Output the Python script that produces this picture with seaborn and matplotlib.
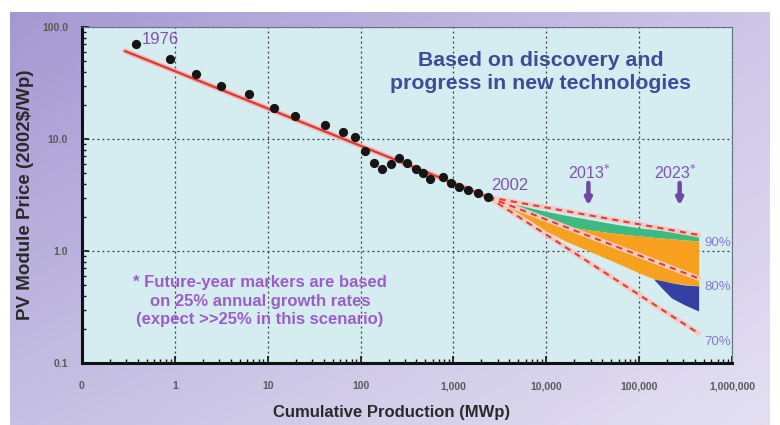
import numpy as np
import pandas as pd
import matplotlib
matplotlib.use("Agg")
import matplotlib.pyplot as plt
import seaborn as sns

# Historical module prices vs cumulative production (1976 -> 2002)
hist_mwp = [0.38, 0.89, 1.70, 3.17, 6.36, 11.6, 19.6, 41.4, 64.6, 88, 111, 140,
            172, 212, 260, 320, 394, 466, 562, 765, 942, 1158, 1426, 1828, 2344]
hist_price = [70, 52, 37.8, 29.7, 25.2, 19.0, 16.1, 13.2, 11.5, 10.4, 7.8, 6.1,
              5.36, 5.94, 6.73, 6.06, 5.36, 5.0, 4.37, 4.6, 4.02, 3.75, 3.5, 3.27, 3.06]

# Experience-curve fit through the historical data
fit_mwp = [0.29, 2365]
fit_price = [61, 3.03]

# Projections from 2002 for three progress ratios
proj_mwp = [2365, 437000]
proj_labels = ["90%", "80%", "70%"]
proj_price = {"90%": [3.03, 1.39], "80%": [3.03, 0.570], "70%": [3.03, 0.184]}

# Scenario bands
band_mwp = [2365, 4510, 10400, 15600, 54200, 106000, 147000, 208000, 287000, 437000]
green_top = [3.03, 2.62, 2.24, 2.10, 1.74, 1.60, 1.55, 1.50, 1.44, 1.37]
orange_top = [3.03, 2.40, 1.82, 1.66, 1.44, 1.36, 1.32, 1.29, 1.26, 1.23]
orange_bottom = [3.03, 2.30, 1.48, 1.24, 0.798, 0.623, 0.562, 0.528, 0.507, 0.487]

blue_mwp = [143000, 175000, 224000, 310000, 437000]
blue_top = [0.562, 0.545, 0.52, 0.497, 0.487]
blue_bottom = [0.562, 0.467, 0.38, 0.33, 0.291]

x_ticks = [0.1, 1, 10, 100, 1e3, 1e4, 1e5, 1e6]
x_ticklabels = ["0", "1", "10", "100", "1,000", "10,000", "100,000", "1,000,000"]
y_ticks = [0.1, 1, 10, 100]
y_ticklabels = ["0.1", "1.0", "10.0", "100.0"]

sns.set_theme(style="ticks")
plt.rcParams["font.family"] = ["Liberation Sans", "DejaVu Sans"]

W, H = 780, 425
fig = plt.figure(figsize=(W / 100, H / 100), dpi=100)
fig.patch.set_facecolor("white")

# Lavender gradient panel behind the chart
bg = fig.add_axes([10 / W, 0, 760 / W, 413 / H])
bg.set_axis_off()
gx = np.linspace(0, 1, 200)[None, :]
gy = np.linspace(0, 1, 120)[:, None]
c_tl = np.array([164, 152, 210]) / 255
c_tr = np.array([205, 198, 232]) / 255
c_bl = np.array([198, 192, 228]) / 255
c_br = np.array([228, 224, 242]) / 255
img = ((1 - gx)[..., None] * (1 - gy)[..., None] * c_tl + gx[..., None] * (1 - gy)[..., None] * c_tr
       + (1 - gx)[..., None] * gy[..., None] * c_bl + gx[..., None] * gy[..., None] * c_br)
bg.imshow(img, aspect="auto", extent=[0, 1, 1, 0])

ax = fig.add_axes([82 / W, 1 - 363 / H, 650 / W, 336 / H])
ax.set_facecolor("#d5edf0")
ax.set_xscale("log")
ax.set_yscale("log")
ax.set_xlim(0.1, 1e6)
ax.set_ylim(0.1, 100)

ax.grid(True, which="major", color="#333333", linestyle=(0, (1.5, 2.5)), linewidth=0.9)

# Scenario bands
ax.fill_between(band_mwp, orange_top, green_top, color="#3dba82", lw=0, zorder=2)
ax.fill_between(band_mwp, orange_bottom, orange_top, color="#f8a11e", lw=0, zorder=2)
ax.fill_between(blue_mwp, blue_bottom, blue_top, color="#3640a2", lw=0, zorder=2)

# Projection lines (dashed red on a pale halo)
for lab in proj_labels:
    df = pd.DataFrame({"mwp": proj_mwp, "price": proj_price[lab]})
    sns.lineplot(data=df, x="mwp", y="price", ax=ax, color="#f6c9c4", lw=3.6,
                 estimator=None, sort=False, zorder=3)
    sns.lineplot(data=df, x="mwp", y="price", ax=ax, color="#d8403a", lw=1.5,
                 linestyle=(0, (3, 2.5)), estimator=None, sort=False, zorder=4)

# Historical fit line
fit_df = pd.DataFrame({"mwp": fit_mwp, "price": fit_price})
sns.lineplot(data=fit_df, x="mwp", y="price", ax=ax, color="#f3b8b4", lw=3.8,
             estimator=None, sort=False, zorder=3)
sns.lineplot(data=fit_df, x="mwp", y="price", ax=ax, color="#d83a34", lw=1.6,
             estimator=None, sort=False, zorder=4)

# Historical points
hist_df = pd.DataFrame({"mwp": hist_mwp, "price": hist_price})
sns.scatterplot(data=hist_df, x="mwp", y="price", ax=ax, color="#151515", s=44,
                edgecolor="#151515", linewidth=0, zorder=5)

# Axes styling
ax.set_xticks(x_ticks)
ax.set_xticklabels(x_ticklabels)
ax.set_yticks(y_ticks)
ax.set_yticklabels(y_ticklabels)
ax.tick_params(which="major", direction="in", length=5, width=1.2, color="#111111",
               labelsize=7.5, labelcolor="#5a5a5a")
ax.tick_params(axis="x", which="major", pad=13)
ax.tick_params(axis="y", which="major", pad=10)
ax.tick_params(which="minor", direction="in", length=3, width=1.0, color="#111111")
for lbl in ax.get_xticklabels() + ax.get_yticklabels():
    lbl.set_fontweight("bold")
for side in ["left", "bottom"]:
    ax.spines[side].set_linewidth(2.2)
    ax.spines[side].set_color("#111111")
for side in ["top", "right"]:
    ax.spines[side].set_linewidth(0.8)
    ax.spines[side].set_color("#6a7080")

ax.set_xlabel("Cumulative Production (MWp)", fontsize=12, fontweight="bold",
              color="#2a2a2a")
ax.set_ylabel("PV Module Price (2002$/Wp)", fontsize=13.5, fontweight="bold",
              color="#2a2a2a")
ax.xaxis.set_label_coords(0.477, -0.125)
ax.yaxis.set_label_coords(-0.074, 0.5)

# Annotations
purple = "#7f52b4"
ax.text(0.695, 78, "1976", color=purple, fontsize=12, ha="center", va="center")
ax.text(4080, 3.88, "2002", color=purple, fontsize=12, ha="center", va="center")
ax.text(29100, 4.97, "2013$^{*}$", color=purple, fontsize=11.5, ha="center", va="center")
ax.text(247000, 4.97, "2023$^{*}$", color=purple, fontsize=11.5, ha="center", va="center")
for xm in [28400, 273000]:
    ax.annotate("", xy=(xm, 2.55), xytext=(xm, 4.05),
                arrowprops=dict(arrowstyle="-|>", color="#6e4aa6", lw=3.2,
                                mutation_scale=9, shrinkA=0, shrinkB=0))

pct_y = {"90%": 1.18, "80%": 0.477, "70%": 0.154}
for lab in proj_labels:
    ax.text(703000, pct_y[lab], lab, color="#8a78d0", fontsize=9.5,
            ha="center", va="center")

ax.text(0.706, 0.866, "Based on discovery and\nprogress in new technologies",
        transform=ax.transAxes, ha="center", va="center", color="#3e4b9c",
        fontsize=15.3, fontweight="bold", linespacing=1.22)

ax.text(0.274, 0.1845,
        "* Future-year markers are based\non 25% annual growth rates\n(expect >>25% in this scenario)",
        transform=ax.transAxes, ha="center", va="center", color="#9d5ccc",
        fontsize=12, fontweight="bold", linespacing=1.3)

fig.savefig("out.png", dpi=100, facecolor=fig.get_facecolor())
